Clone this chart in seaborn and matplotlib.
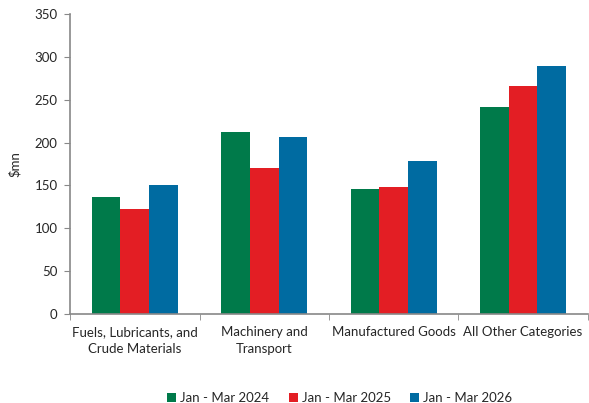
import numpy as np
import pandas as pd
import seaborn as sns
import matplotlib.pyplot as plt
from matplotlib.ticker import FixedLocator

# chart data
categories = ['Fuels, Lubricants, and\nCrude Materials', 'Machinery and\nTransport',
              'Manufactured Goods', 'All Other Categories']
periods = ['Jan - Mar 2024', 'Jan - Mar 2025', 'Jan - Mar 2026']
vals_2024 = [137, 212, 146, 242]
vals_2025 = [122, 170, 148, 266]
vals_2026 = [151, 207, 179, 289]
colors = ['#007A4A', '#E31E24', '#006BA1']

df = pd.DataFrame({
    'category': categories * 3,
    'period': [periods[0]] * 4 + [periods[1]] * 4 + [periods[2]] * 4,
    'value': vals_2024 + vals_2025 + vals_2026,
})

sns.set_style('white')
plt.rcParams['font.family'] = ['Lato', 'DejaVu Sans']

fig = plt.figure(figsize=(5.89, 4.03), dpi=100)
ax = fig.add_axes([0.119, 0.221, 0.879, 0.744])

sns.barplot(data=df, x='category', y='value', hue='period', palette=colors,
            width=0.665, saturation=1, linewidth=0, ax=ax, legend=True)

ax.set_ylim(0, 350)
ax.set_xlim(-0.5, 3.5)
ax.set_yticks(range(0, 351, 50))
ax.set_ylabel('$mn', fontsize=9.5, labelpad=10)
ax.set_xlabel('')
ax.tick_params(axis='y', labelsize=9.5, length=4, color='#888888', direction='out', left=True, pad=5)
ax.tick_params(axis='x', which='major', labelsize=9.5, length=0, pad=9)
for lbl in ax.get_xticklabels():
    lbl.set_linespacing(1.45)
ax.xaxis.set_minor_locator(FixedLocator([-0.5, 0.5, 1.5, 2.5, 3.5]))
ax.tick_params(axis='x', which='minor', length=4, color='#888888', direction='out', bottom=True)

for side in ['top', 'right']:
    ax.spines[side].set_visible(False)
for side in ['left', 'bottom']:
    ax.spines[side].set_color('#888888')
    ax.spines[side].set_linewidth(1.2)

handles, labels = ax.get_legend_handles_labels()
ax.get_legend().remove()
fig.legend(handles, labels, loc='center', bbox_to_anchor=(0.577, 0.013), ncol=3, frameon=False,
           fontsize=9.5, handlelength=0.7, handleheight=0.7, handletextpad=0.3,
           columnspacing=1.45)

plt.savefig('out.png', dpi=100)
